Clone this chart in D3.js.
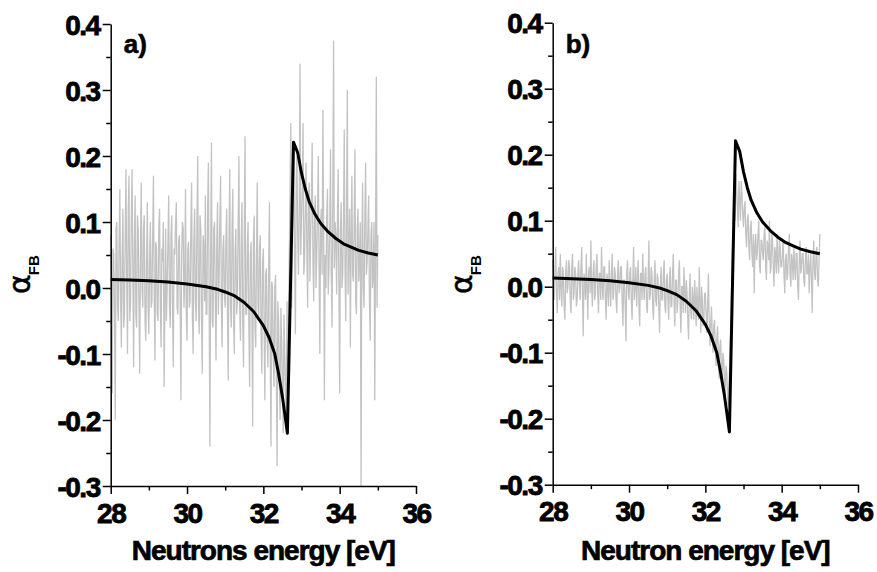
<!DOCTYPE html>
<html><head><meta charset="utf-8">
<script src="https://cdn.jsdelivr.net/npm/d3@7"></script>
<style>
body{margin:0;background:#fff}
svg{display:block}
text{font-family:"Liberation Sans",Arial,sans-serif;}
</style>
</head><body>
<svg id="chart" width="877" height="572"></svg>
<script>
// ---------- data ----------
const panelLabels = ["a)", "b)"];
const xTitles = ["Neutrons energy [eV]", "Neutron energy [eV]"];
const xTickValues = [28, 30, 32, 34, 36];
const xMinorTicks = [29, 31, 33, 35];
const yTickValues = [-0.3, -0.2, -0.1, 0.0, 0.1, 0.2, 0.3, 0.4];
const yMinorTicks = [-0.25, -0.15, -0.05, 0.05, 0.15, 0.25, 0.35];

// measured asymmetry, sampled every 0.02 eV starting at 28 eV
const measEnergyStart = 28;
const measEnergyStep = 0.02;
const measuredA = [
  // 28 eV
  0.08,0.02,-0.16,0.06,0.05,-0.04,-0.20,0.09,0.10,-0.03,
  -0.05,0.07,0.15,-0.02,-0.09,0.05,0.12,-0.06,-0.04,0.08,
  0.18,0.01,-0.10,0.12,0.17,-0.05,-0.02,0.10,0.18,0.03,
  -0.12,0.07,0.14,-0.04,-0.06,0.11,0.09,-0.02,-0.13,0.06,
  0.16,0.00,-0.03,0.09,0.11,-0.05,-0.08,0.04,0.13,-0.03,
  // 29 eV
  -0.07,0.05,0.10,-0.03,-0.02,0.08,0.17,-0.01,-0.11,0.07,
  0.06,-0.04,-0.05,0.09,0.12,-0.02,-0.09,0.06,0.04,0.10,
  -0.15,-0.02,0.09,-0.05,0.00,0.07,0.14,-0.03,-0.06,0.08,
  0.11,-0.04,-0.12,0.06,0.05,0.10,0.13,-0.03,-0.04,0.07,
  0.08,-0.02,-0.17,0.05,0.10,0.09,-0.03,0.01,0.15,-0.04,
  // 30 eV
  -0.08,0.06,0.07,-0.03,-0.02,0.09,0.16,-0.04,-0.10,0.07,
  0.12,-0.02,-0.05,0.10,0.20,-0.03,-0.07,0.11,0.09,-0.05,
  -0.13,0.08,0.06,-0.02,0.14,-0.04,-0.04,0.12,0.19,-0.03,
  -0.24,0.06,0.22,-0.05,-0.06,0.09,0.10,-0.02,-0.11,0.07,
  0.13,-0.04,0.01,0.10,0.17,-0.03,-0.09,0.06,0.08,-0.01,
  // 31 eV
  -0.03,0.08,0.12,-0.04,-0.14,0.07,0.18,-0.03,-0.06,0.09,
  0.15,-0.05,-0.10,0.06,0.09,-0.04,-0.02,0.10,0.20,-0.03,
  -0.08,0.07,0.13,-0.05,-0.12,0.08,0.23,-0.04,-0.04,0.06,
  0.10,-0.06,-0.15,0.05,0.07,-0.04,-0.21,0.07,0.11,-0.06,
  -0.09,0.05,0.16,-0.03,-0.05,0.06,0.08,-0.07,-0.13,0.04,
  // 32 eV
  0.06,-0.06,-0.17,0.02,0.03,-0.08,-0.12,0.04,0.13,-0.10,
  -0.24,0.01,0.00,-0.11,-0.15,0.00,0.02,-0.13,-0.27,-0.02,
  -0.05,-0.14,-0.20,-0.03,-0.08,-0.15,-0.22,-0.04,-0.10,-0.16,
  -0.19,-0.02,-0.12,-0.08,0.05,0.15,0.25,-0.03,0.06,0.14,
  0.22,0.04,-0.07,0.16,0.20,0.08,0.02,0.12,0.34,0.05,
  // 33 eV
  0.10,0.15,0.25,0.02,0.04,0.12,0.19,0.06,-0.03,0.13,
  0.16,0.01,0.08,0.14,0.22,0.04,-0.02,0.11,0.14,0.00,
  0.05,0.12,0.20,0.03,-0.10,0.10,0.12,0.02,0.27,0.09,
  -0.17,0.05,0.00,0.11,0.15,-0.01,0.03,0.10,0.21,0.02,
  -0.06,0.12,0.375,0.03,0.10,0.08,-0.01,0.10,0.18,0.00,
  // 34 eV
  -0.16,0.09,0.13,0.00,0.02,0.10,0.24,0.03,-0.05,0.11,
  0.30,-0.01,0.06,0.12,-0.09,0.08,0.17,0.02,0.01,0.10,
  0.21,-0.02,-0.04,0.09,0.12,0.01,0.05,0.10,-0.30,0.06,
  0.16,0.00,-0.03,0.11,0.19,0.02,0.04,0.09,0.14,-0.02,
  -0.08,0.08,0.10,0.00,0.02,0.10,-0.17,0.07,0.32,-0.03,
  // 35 eV
  0.08
];
const measuredB = [
  // 28 eV
  0.04,0.01,-0.02,0.03,0.06,-0.01,-0.04,0.02,0.03,-0.02,
  0.05,0.00,-0.03,0.03,0.02,-0.03,-0.05,0.02,0.04,-0.01,
  0.00,0.04,0.03,-0.02,-0.04,0.03,0.05,-0.02,-0.01,0.03,
  0.02,-0.03,-0.02,0.02,0.04,0.00,-0.02,0.03,0.06,-0.01,
  -0.075,0.02,0.01,-0.02,0.05,0.00,-0.05,0.02,0.03,-0.01,
  // 29 eV
  0.07,0.00,-0.03,0.02,0.04,-0.02,-0.01,0.03,0.05,-0.01,
  -0.04,0.02,0.02,-0.02,0.06,0.00,-0.02,0.03,0.03,-0.02,
  -0.05,0.02,0.01,-0.03,0.04,0.00,-0.03,0.02,0.05,-0.02,
  -0.01,0.03,0.02,-0.02,-0.04,0.02,0.04,-0.01,0.00,0.03,
  0.03,-0.02,-0.06,0.01,0.01,-0.03,-0.083,0.02,0.04,-0.01,
  // 30 eV
  -0.02,0.02,0.03,-0.02,-0.05,0.01,0.06,-0.02,0.00,0.03,
  -0.03,0.01,0.04,-0.03,-0.06,0.02,0.02,-0.02,0.05,0.00,
  -0.02,0.02,0.03,-0.03,-0.04,0.01,0.07,-0.02,-0.01,0.03,
  0.02,-0.03,-0.05,0.01,0.04,-0.02,-0.03,0.02,0.01,-0.03,
  -0.07,0.00,0.03,-0.02,-0.02,0.02,0.04,-0.03,-0.04,0.01,
  // 31 eV
  0.02,-0.02,-0.05,0.01,0.03,-0.03,-0.03,0.02,0.05,-0.02,
  -0.06,0.01,0.01,-0.04,-0.02,0.02,0.04,-0.03,-0.07,0.00,
  0.00,-0.04,0.03,-0.01,-0.04,0.01,-0.01,-0.05,-0.08,-0.01,
  0.02,-0.04,-0.05,0.00,-0.02,-0.05,0.01,-0.02,-0.06,0.00,
  -0.03,-0.05,0.03,-0.02,-0.07,0.00,-0.02,-0.06,-0.05,-0.01,
  // 32 eV
  -0.01,-0.04,-0.07,-0.03,0.02,-0.05,-0.09,-0.06,-0.03,-0.07,
  -0.10,-0.06,-0.05,-0.09,-0.12,-0.08,-0.06,-0.10,-0.14,-0.09,
  -0.08,-0.12,-0.15,-0.10,-0.11,-0.14,-0.17,-0.12,-0.13,-0.16,
  -0.18,-0.15,-0.12,-0.07,-0.02,0.03,0.08,0.12,0.14,0.10,
  0.17,0.15,0.12,0.09,0.16,0.13,0.10,0.16,0.14,0.11,
  // 33 eV
  0.09,0.12,0.13,0.08,0.06,0.10,0.11,0.06,0.04,0.09,
  0.10,0.05,0.03,0.08,-0.01,0.06,0.08,0.04,0.05,0.08,
  0.10,0.03,0.02,0.07,0.07,0.05,0.04,0.08,0.09,0.03,
  0.01,0.07,0.06,0.04,0.10,0.02,0.03,0.08,0.07,0.03,
  0.00,0.06,0.05,0.02,0.08,0.04,0.02,0.07,0.06,0.03,
  // 34 eV
  0.03,0.05,0.07,0.02,-0.01,0.04,0.05,0.01,0.02,0.06,
  0.08,0.02,0.00,0.05,0.04,0.01,0.06,0.03,0.01,0.05,
  0.05,0.00,-0.02,0.04,0.07,0.02,0.03,0.05,0.05,0.01,
  0.00,0.04,0.06,0.02,0.02,0.05,-0.01,0.03,0.05,0.01,
  -0.04,0.04,0.07,0.02,0.01,0.05,0.06,0.01,0.00,0.04,
  // 35 eV
  0.08
];

// fitted curve (black)
const fitEnergy = [28.0,28.5,29.0,29.5,30.0,30.5,30.8,31.0,31.25,31.5,31.75,32.0,32.15,32.3,32.4,32.5,32.56,32.63,32.79,32.9,33.0,33.1,33.2,33.35,33.5,33.7,33.9,34.1,34.3,34.5,34.75,35.0];
const fitAsym   = [0.013,0.012,0.011,0.009,0.006,0.002,-0.002,-0.006,-0.012,-0.022,-0.036,-0.057,-0.075,-0.10,-0.13,-0.165,-0.19,-0.22,0.221,0.205,0.174,0.15,0.131,0.112,0.098,0.085,0.075,0.067,0.062,0.057,0.053,0.050];

// ---------- drawing ----------
const svg = d3.select("#chart");
const panels = [
  {x0: 110.7, x1: 416, yTop: 24, yBot: 486, measured: measuredA, label: panelLabels[0], title: xTitles[0], ylabX: 30, ylabY: 294},
  {x0: 552.7, x1: 858, yTop: 22.7, yBot: 484.7, measured: measuredB, label: panelLabels[1], title: xTitles[1], ylabX: 472, ylabY: 294}
];

panels.forEach(p => {
  const x = d3.scaleLinear().domain([28, 36]).range([p.x0, p.x1]);
  const y = d3.scaleLinear().domain([-0.3, 0.4]).range([p.yBot, p.yTop]);
  const g = svg.append("g");

  const meas = p.measured.map((v, i) => [measEnergyStart + i * measEnergyStep, v]);
  g.append("path").datum(meas)
    .attr("fill", "none").attr("stroke", "#c3c3c3").attr("stroke-width", 1.3)
    .attr("d", d3.line().x(d => x(d[0])).y(d => y(d[1])));

  const fit = fitEnergy.map((e, i) => [e, fitAsym[i]]);
  g.append("path").datum(fit)
    .attr("fill", "none").attr("stroke", "#000").attr("stroke-width", 3)
    .attr("stroke-linejoin", "round")
    .attr("d", d3.line().x(d => x(d[0])).y(d => y(d[1])));

  // axes
  const xa = g.append("g").attr("transform", `translate(0,${p.yBot})`)
    .call(d3.axisBottom(x).tickValues(xTickValues).tickSize(8).tickSizeOuter(0).tickPadding(5).tickFormat(d3.format("d")));
  g.append("g").attr("transform", `translate(0,${p.yBot})`)
    .call(d3.axisBottom(x).tickValues(xMinorTicks).tickSize(4.5).tickSizeOuter(0).tickFormat(""))
    .select(".domain").remove();
  const ya = g.append("g").attr("transform", `translate(${p.x0},0)`)
    .call(d3.axisLeft(y).tickValues(yTickValues).tickSize(8).tickSizeOuter(0).tickPadding(5).tickFormat(d => d.toFixed(1)));
  g.append("g").attr("transform", `translate(${p.x0},0)`)
    .call(d3.axisLeft(y).tickValues(yMinorTicks).tickSize(4.5).tickSizeOuter(0).tickFormat(""))
    .select(".domain").remove();

  g.selectAll(".domain, .tick line").attr("stroke", "#000").attr("stroke-width", 1.5);
  g.selectAll(".tick text")
    .attr("font-family", "'Liberation Sans', Arial, sans-serif")
    .attr("font-weight", "bold").attr("font-size", 28).attr("fill", "#000")
    .attr("stroke", "#000").attr("stroke-width", 0.8)
    .style("letter-spacing", "-1.5px");
  xa.selectAll(".tick text").attr("dy", "0.85em");
  ya.selectAll(".tick text").attr("dy", "0.36em").attr("x", -11);

  // panel label
  g.append("text").attr("x", p.x0 + 13).attr("y", 53)
    .attr("font-weight", "bold").attr("font-size", 26)
    .attr("stroke", "#000").attr("stroke-width", 0.6).text(p.label);

  // x title
  g.append("text").attr("x", (p.x0 + p.x1) / 2).attr("y", 560)
    .attr("text-anchor", "middle").attr("font-weight", "bold").attr("font-size", 28)
    .attr("stroke", "#000").attr("stroke-width", 0.7)
    .style("letter-spacing", "-1px").text(p.title);

  // y title: alpha_FB
  const yt = g.append("text")
    .attr("transform", `translate(${p.ylabX},${p.ylabY}) rotate(-90)`)
    .attr("text-anchor", "start");
  yt.append("tspan").attr("font-family", "'DejaVu Sans', sans-serif").attr("font-size", 30)
    .attr("stroke", "#000").attr("stroke-width", 0.5).text("α");
  yt.append("tspan").attr("dy", 9).attr("dx", -1).attr("font-weight", "bold").attr("font-size", 15).text("FB");
});
</script>
</body></html>
